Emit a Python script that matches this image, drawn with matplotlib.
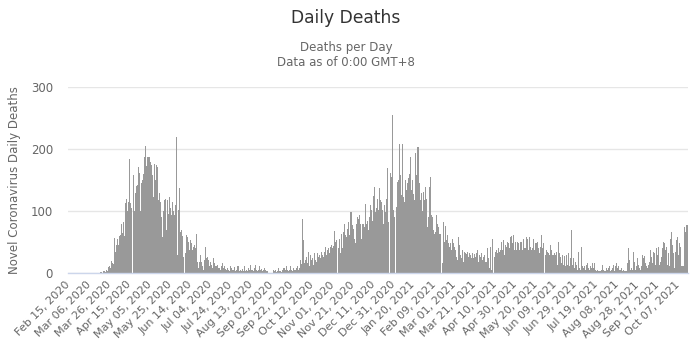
import numpy as np
import pandas as pd
import matplotlib
matplotlib.use('Agg')
import matplotlib.pyplot as plt

start_date = '2020-02-15'

deaths_feb_apr_2020 = [0, 0, 0, 0, 0, 0, 0, 0, 0, 0,
                       0, 0, 0, 0, 0, 0, 0, 0, 0, 0,
                       0, 0, 0, 0, 0, 0, 0, 0, 0, 0,
                       1, 2, 2, 0, 3, 4, 2, 5, 3, 10,
                       12, 8, 20, 16, 15, 57, 35, 45, 55, 45,
                       60, 62, 80, 65, 82, 60, 113, 120, 100, 115,
                       184, 113, 105]
deaths_apr_jun_2020 = [0,
                       158, 100, 130, 140, 142, 171, 161, 100, 145, 150,
                       160, 187, 205, 172, 187, 187, 180, 174, 158, 123,
                       176, 150, 174, 171, 118, 130, 115, 91, 59, 100,
                       118, 120, 70, 118, 96, 123, 105, 94, 115, 100,
                       94, 110,
                       220,
                       30, 102, 137, 67, 70, 60, 27]
deaths_jun_sep_2020 = [0,
                       33, 61, 59, 50, 37, 54, 48, 37, 43, 46,
                       40, 63, 19, 8, 19, 30, 19, 11, 5, 21,
                       43, 24, 27, 21, 11, 19, 13, 8, 24, 17,
                       11, 13, 9, 8, 6, 12, 16, 9, 11,
                       7, 5, 9, 6, 4, 11, 8, 5, 6, 10,
                       4, 6, 11, 11, 4, 5, 3, 7, 4, 11,
                       3, 6, 4, 8, 6, 13, 5, 6, 4, 8,
                       13, 6, 4, 6, 11, 5, 7, 4, 6, 8,
                       5, 4, 3, 1, 0, 1, 1, 0, 5, 3,
                       6, 2, 3, 8, 4, 3, 2, 5, 8, 5,
                       11, 6, 3, 5, 11, 6, 4, 8, 6, 5,
                       8, 11, 6, 8, 21, 15]
deaths_oct_dec_2020 = [88,
                       53, 16, 22, 27, 16, 35, 11, 29, 21, 24,
                       13, 32, 21, 19, 32, 27, 30, 24, 35, 29,
                       27, 35, 43, 30, 37, 40, 33, 43, 45, 40,
                       44, 68, 51, 54,
                       0,
                       40, 56, 32, 64, 40, 67, 80, 61, 59, 72, 83, 62,
                       99, 78, 72, 56, 48, 80, 91, 88, 94, 80,
                       56, 80, 80, 75, 112, 80, 85, 70, 91, 110,
                       102, 85, 124, 139, 99, 105, 120, 102, 138, 118,
                       115, 102, 80, 110, 99, 120, 170, 83]
deaths_dec_2020_feb_2021 = [0, 161, 155, 255, 102, 90, 0,
                            107, 147, 150, 208, 158, 126, 208, 123, 115, 150,
                            134, 145, 153, 160, 188, 134, 150, 128, 118, 194,
                            158, 204, 145, 118, 129, 100, 131, 118, 139, 120,
                            75, 91, 139, 155, 94, 91, 70, 64, 67, 94,
                            80, 75, 64, 64]
deaths_feb_may_2021 = [0,
                       17, 83, 50, 76, 53, 61, 48, 43, 48, 37,
                       56, 48, 43, 37, 27, 21, 59, 45, 29, 24,
                       37, 19, 35, 32, 31, 35, 27, 32, 29, 24,
                       33, 24, 31, 27, 32, 37, 19, 29, 27, 32,
                       21, 27, 29, 19, 40, 24, 8, 43, 5, 55,
                       0,
                       27, 35, 37, 32, 40, 35, 37, 51, 37, 53,
                       29, 45, 43, 51, 48, 40, 59, 60, 48, 61,
                       37, 51, 38, 51, 48, 37, 51, 51, 37, 55,
                       40, 40, 59, 56, 37, 59, 43, 37, 40, 56,
                       37, 48, 48, 51, 40, 32, 43, 61, 40, 48]
deaths_may_aug_2021 = [0,
                       29, 37, 35, 32, 29, 45, 37, 29, 32, 29,
                       35, 13, 51, 32, 27, 16, 29, 13, 28, 11,
                       29, 13, 32, 11, 24,
                       70,
                       13, 24, 8, 19, 13, 5, 35, 8, 5, 43,
                       11, 8, 11, 5, 13, 17, 8, 5, 11, 8,
                       16, 8, 17, 5, 4, 5, 3, 4, 3, 5,
                       13, 5, 4, 4, 8, 5, 8, 11, 3, 5,
                       8, 13, 4, 11]
deaths_aug_oct_2021 = [16, 8, 11, 5, 8, 3, 5, 4, 3, 4,
                       16, 40, 21, 5, 8, 5, 35, 19, 5, 11,
                       24, 13, 8, 5, 11, 29, 24, 28, 16, 11,
                       8, 13, 19, 37, 27, 16, 35, 32, 13, 40,
                       29, 43, 13, 19, 27, 40, 51, 48, 37, 43,
                       13, 32, 11, 56, 67, 45, 32, 8, 35, 53,
                       59, 29, 48, 43, 11, 12, 11, 75, 67, 78]

deaths = np.array(deaths_feb_apr_2020 + deaths_apr_jun_2020 + deaths_jun_sep_2020 +
                  deaths_oct_dec_2020 + deaths_dec_2020_feb_2021 + deaths_feb_may_2021 +
                  deaths_may_aug_2021 + deaths_aug_oct_2021)
dates = pd.date_range(start_date, periods=len(deaths), freq='D')
categories = [d.strftime('%b %d, %Y') for d in dates]
label_step = 20
y_ticks = [0, 100, 200, 300]

W, H = 692, 351
fig = plt.figure(figsize=(W / 100, H / 100), dpi=100)
left, right, top, bottom = 68.3, 687.5, 87.0, 273.3
ax = fig.add_axes([left / W, 1 - bottom / H, (right - left) / W, (bottom - top) / H])

x = np.arange(len(deaths))
ax.bar(x, deaths, width=1.0, color='#999999', linewidth=0, zorder=2)
ax.set_xlim(-0.5, len(deaths) - 0.5)
ax.set_ylim(0, 300)
ax.set_yticks(y_ticks)
ax.set_yticklabels([str(v) for v in y_ticks])
ax.yaxis.grid(True, color='#e6e6e6', linewidth=1)
ax.set_axisbelow(True)
for s in ['top', 'right', 'left']:
    ax.spines[s].set_visible(False)
ax.spines['bottom'].set_color('#ccd6eb')
ax.spines['bottom'].set_linewidth(1)
ax.spines['bottom'].set_zorder(3)

tick_pos = x[::label_step]
ax.set_xticks(tick_pos)
ax.set_xticklabels([categories[i] for i in tick_pos], rotation=45, ha='right',
                   va='center', rotation_mode='anchor', fontsize=8, color='#666666')
ax.tick_params(axis='x', length=0, pad=7)
ax.tick_params(axis='y', length=0, pad=11, labelsize=8.5, labelcolor='#666666')

fig.text(0.5, 1 - 18 / H, 'Daily Deaths', ha='center', va='center', fontsize=12.3, color='#333333')
fig.text(0.5, 1 - 47 / H, 'Deaths per Day', ha='center', va='center', fontsize=8.5, color='#666666')
fig.text(0.5, 1 - 62 / H, 'Data as of 0:00 GMT+8', ha='center', va='center', fontsize=8.5, color='#666666')
fig.text(15 / W, 1 - 180 / H, 'Novel Coronavirus Daily Deaths', rotation=90, ha='center',
         va='center', fontsize=8.5, color='#666666')

fig.savefig('out.png', dpi=100)
